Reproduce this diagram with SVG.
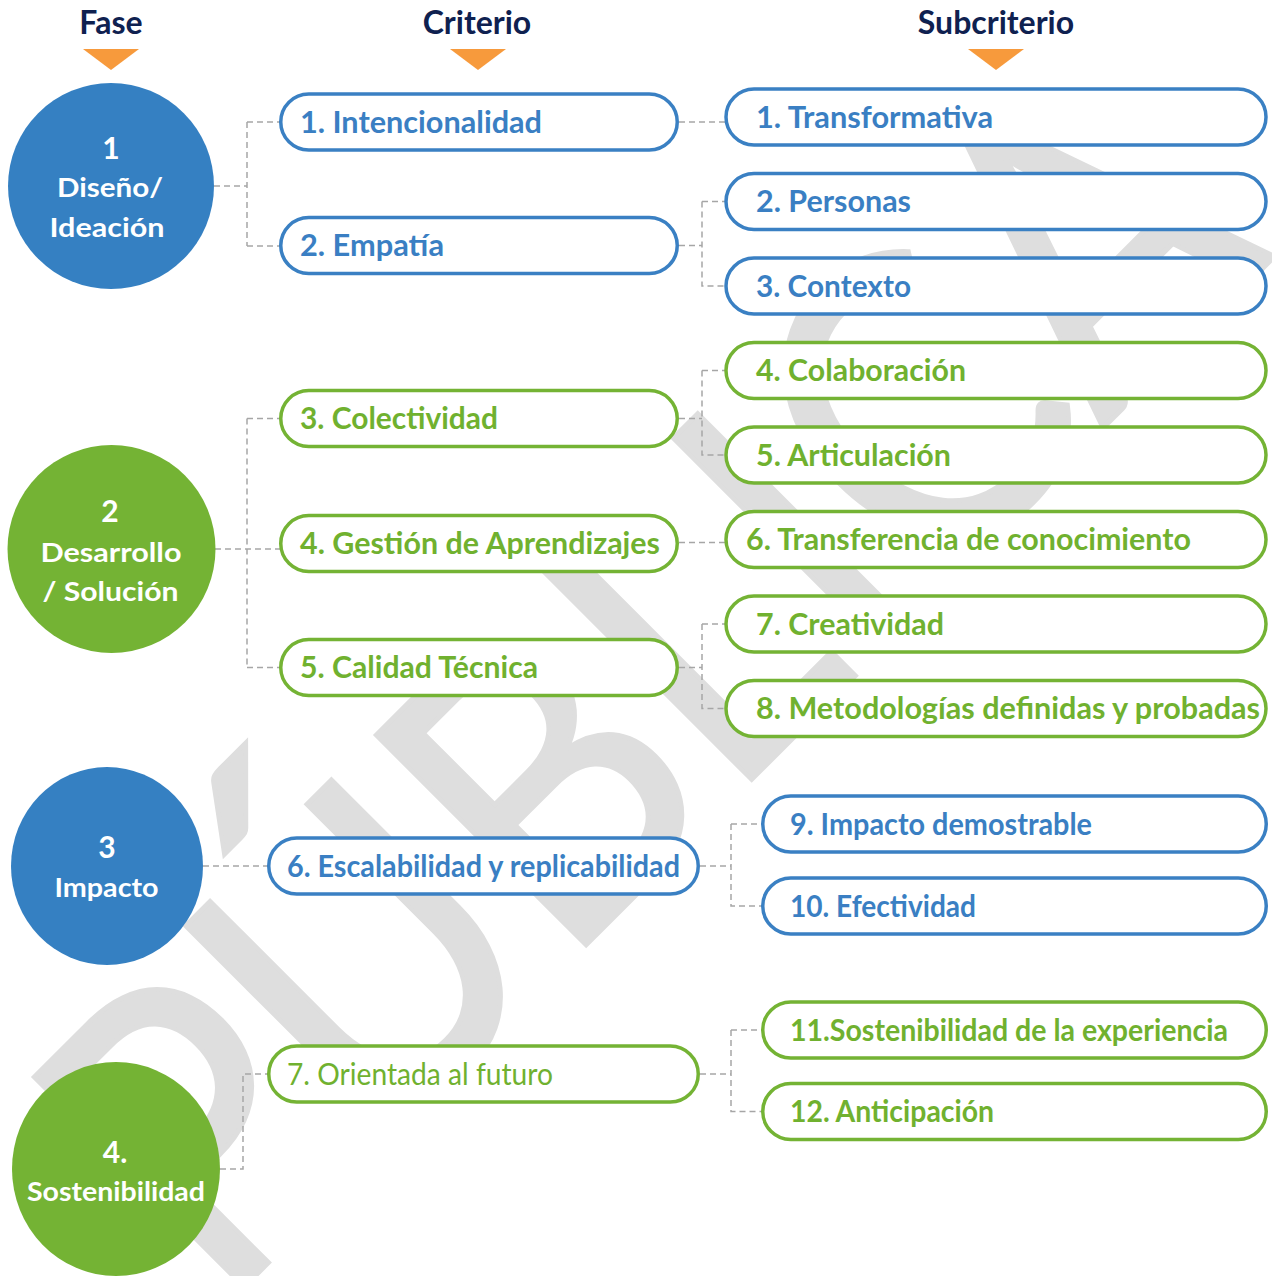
<svg xmlns="http://www.w3.org/2000/svg" width="1272" height="1276" viewBox="0 0 1272 1276">
<style>
.wm{font-family:Lato,'Liberation Sans',sans-serif;font-size:414px;fill:#dedede;stroke:#dedede;stroke-width:5}
.hdr{font-family:Lato,'Liberation Sans',sans-serif;font-weight:700;font-size:32px;fill:#0f2150;text-anchor:middle}
.tri{fill:#f79a3c}
.pb{fill:#fff;stroke:#3a80c3;stroke-width:3.5}
.pg{fill:#fff;stroke:#74b334;stroke-width:3.5}
.tb{font-family:Lato,'Liberation Sans',sans-serif;font-weight:700;font-size:30px;fill:#3a7fc3}
.tg{font-family:Lato,'Liberation Sans',sans-serif;font-weight:700;font-size:30px;fill:#70b12f}
.reg{font-weight:400}
.cb{fill:#3580c2}
.cg{fill:#74b334}
.ct{font-family:Lato,'Liberation Sans',sans-serif;font-weight:700;font-size:27px;fill:#fff;text-anchor:middle}
.cn{font-size:30px}
.conn path{fill:none;stroke:#a6a6a6;stroke-width:1.5;stroke-dasharray:6 4}
</style>
<text class="wm" transform="translate(220.5,1310.5) rotate(-45)" textLength="1492" lengthAdjust="spacingAndGlyphs">PÚBLICA</text>
<g id="headers">
<text class="hdr" x="111" y="34">Fase</text>
<text class="hdr" x="477" y="34">Criterio</text>
<text class="hdr" x="996" y="34">Subcriterio</text>
<polygon class="tri" points="83,49 139,49 111,70"/>
<polygon class="tri" points="450,49 506,49 478,70"/>
<polygon class="tri" points="968,49 1024,49 996,70"/>
</g>
<g class="conn" id="connectors">
<path d="M214 186 H247 M247 122 V246 M247 122 H280 M247 246 H280"/>
<path d="M679 122 H725"/>
<path d="M679 245.5 H702 M702 201.5 V286 H725 M702 201.5 H725"/>
<path d="M215 549 H280 M247 418.5 V667.5 M247 418.5 H280 M247 667.5 H280"/>
<path d="M679 418.5 H702 M702 370.5 V455 H725 M702 370.5 H725"/>
<path d="M679 542.5 H725"/>
<path d="M679 667.5 H702 M702 624 V708.5 H725 M702 624 H725"/>
<path d="M203 866 H268"/>
<path d="M700 866 H731 M731 824 V906 H762 M731 824 H762"/>
<path d="M220 1169 H243 V1074 H268"/>
<path d="M700 1074 H731 M731 1030 V1111.5 H762 M731 1030 H762"/>
</g>
<g id="fase1"><ellipse class="cb" cx="111" cy="186" rx="103" ry="103"/>
<text class="ct cn" x="111" y="159">1</text>
<text class="ct" x="110" y="197" textLength="106" lengthAdjust="spacingAndGlyphs">Diseño/</text>
<text class="ct" x="107" y="237" textLength="115" lengthAdjust="spacingAndGlyphs">Ideación</text></g>
<g id="fase2"><ellipse class="cg" cx="111.5" cy="549" rx="104" ry="104"/>
<text class="ct cn" x="110" y="522">2</text>
<text class="ct" x="111" y="562" textLength="141" lengthAdjust="spacingAndGlyphs">Desarrollo</text>
<text class="ct" x="110.5" y="601" textLength="136" lengthAdjust="spacingAndGlyphs">/ Solución</text></g>
<g id="fase3"><ellipse class="cb" cx="107" cy="866" rx="96" ry="99"/>
<text class="ct cn" x="107" y="858">3</text>
<text class="ct" x="106.5" y="897" textLength="104" lengthAdjust="spacingAndGlyphs">Impacto</text></g>
<g id="fase4"><ellipse class="cg" cx="116" cy="1169" rx="104" ry="107"/>
<text class="ct cn" x="115" y="1163">4.</text>
<text class="ct" x="116" y="1201" textLength="178" lengthAdjust="spacingAndGlyphs">Sostenibilidad</text></g>
<g id="crit1"><rect class="pb" x="280.75" y="94" width="396.5" height="56" rx="28"/><text class="tb" x="300" y="132.5" textLength="242" lengthAdjust="spacingAndGlyphs">1. Intencionalidad</text></g>
<g id="crit2"><rect class="pb" x="280.75" y="217.5" width="396.5" height="56" rx="28"/><text class="tb" x="300" y="256" textLength="144" lengthAdjust="spacingAndGlyphs">2. Empatía</text></g>
<g id="crit3"><rect class="pg" x="280.75" y="390.5" width="396.5" height="56" rx="28"/><text class="tg" x="300" y="429" textLength="198" lengthAdjust="spacingAndGlyphs">3. Colectividad</text></g>
<g id="crit4"><rect class="pg" x="280.75" y="515.5" width="396.5" height="56" rx="28"/><text class="tg" x="300" y="554" textLength="360" lengthAdjust="spacingAndGlyphs">4. Gestión de Aprendizajes</text></g>
<g id="crit5"><rect class="pg" x="280.75" y="639.5" width="396.5" height="56" rx="28"/><text class="tg" x="300" y="678" textLength="238" lengthAdjust="spacingAndGlyphs">5. Calidad Técnica</text></g>
<g id="crit6"><rect class="pb" x="268.75" y="838" width="429.5" height="56" rx="28"/><text class="tb" x="287" y="876.5" textLength="393" lengthAdjust="spacingAndGlyphs">6. Escalabilidad y replicabilidad</text></g>
<g id="crit7"><rect class="pg" x="268.75" y="1046" width="429.5" height="56" rx="28"/><text class="tg reg" x="287" y="1084.5" textLength="266" lengthAdjust="spacingAndGlyphs">7. Orientada al futuro</text></g>
<g id="sub1"><rect class="pb" x="726" y="89" width="540" height="56" rx="28"/><text class="tb" x="756" y="127.5" textLength="237" lengthAdjust="spacingAndGlyphs">1. Transformativa</text></g>
<g id="sub2"><rect class="pb" x="726" y="173.5" width="540" height="56" rx="28"/><text class="tb" x="756" y="212" textLength="155" lengthAdjust="spacingAndGlyphs">2. Personas</text></g>
<g id="sub3"><rect class="pb" x="726" y="258" width="540" height="56" rx="28"/><text class="tb" x="756" y="296.5" textLength="155" lengthAdjust="spacingAndGlyphs">3. Contexto</text></g>
<g id="sub4"><rect class="pg" x="726" y="342.5" width="540" height="56" rx="28"/><text class="tg" x="756" y="381" textLength="210" lengthAdjust="spacingAndGlyphs">4. Colaboración</text></g>
<g id="sub5"><rect class="pg" x="726" y="427" width="540" height="56" rx="28"/><text class="tg" x="756" y="465.5" textLength="195" lengthAdjust="spacingAndGlyphs">5. Articulación</text></g>
<g id="sub6"><rect class="pg" x="726" y="511.5" width="540" height="56" rx="28"/><text class="tg" x="746" y="550" textLength="445" lengthAdjust="spacingAndGlyphs">6. Transferencia de conocimiento</text></g>
<g id="sub7"><rect class="pg" x="726" y="596" width="540" height="56" rx="28"/><text class="tg" x="756" y="634.5" textLength="188" lengthAdjust="spacingAndGlyphs">7. Creatividad</text></g>
<g id="sub8"><rect class="pg" x="726" y="680.5" width="540" height="56" rx="28"/><text class="tg" x="756" y="719" textLength="504" lengthAdjust="spacingAndGlyphs">8. Metodologías definidas y probadas</text></g>
<g id="sub9"><rect class="pb" x="762.75" y="796" width="503.5" height="56" rx="28"/><text class="tb" x="790" y="834.5" textLength="302" lengthAdjust="spacingAndGlyphs">9. Impacto demostrable</text></g>
<g id="sub10"><rect class="pb" x="762.75" y="878" width="503.5" height="56" rx="28"/><text class="tb" x="790" y="916.5" textLength="186" lengthAdjust="spacingAndGlyphs">10. Efectividad</text></g>
<g id="sub11"><rect class="pg" x="762.75" y="1002" width="503.5" height="56" rx="28"/><text class="tg" x="790" y="1040.5" textLength="438" lengthAdjust="spacingAndGlyphs">11.Sostenibilidad de la experiencia</text></g>
<g id="sub12"><rect class="pg" x="762.75" y="1083.5" width="503.5" height="56" rx="28"/><text class="tg" x="790" y="1122" textLength="204" lengthAdjust="spacingAndGlyphs">12. Anticipación</text></g>
</svg>
